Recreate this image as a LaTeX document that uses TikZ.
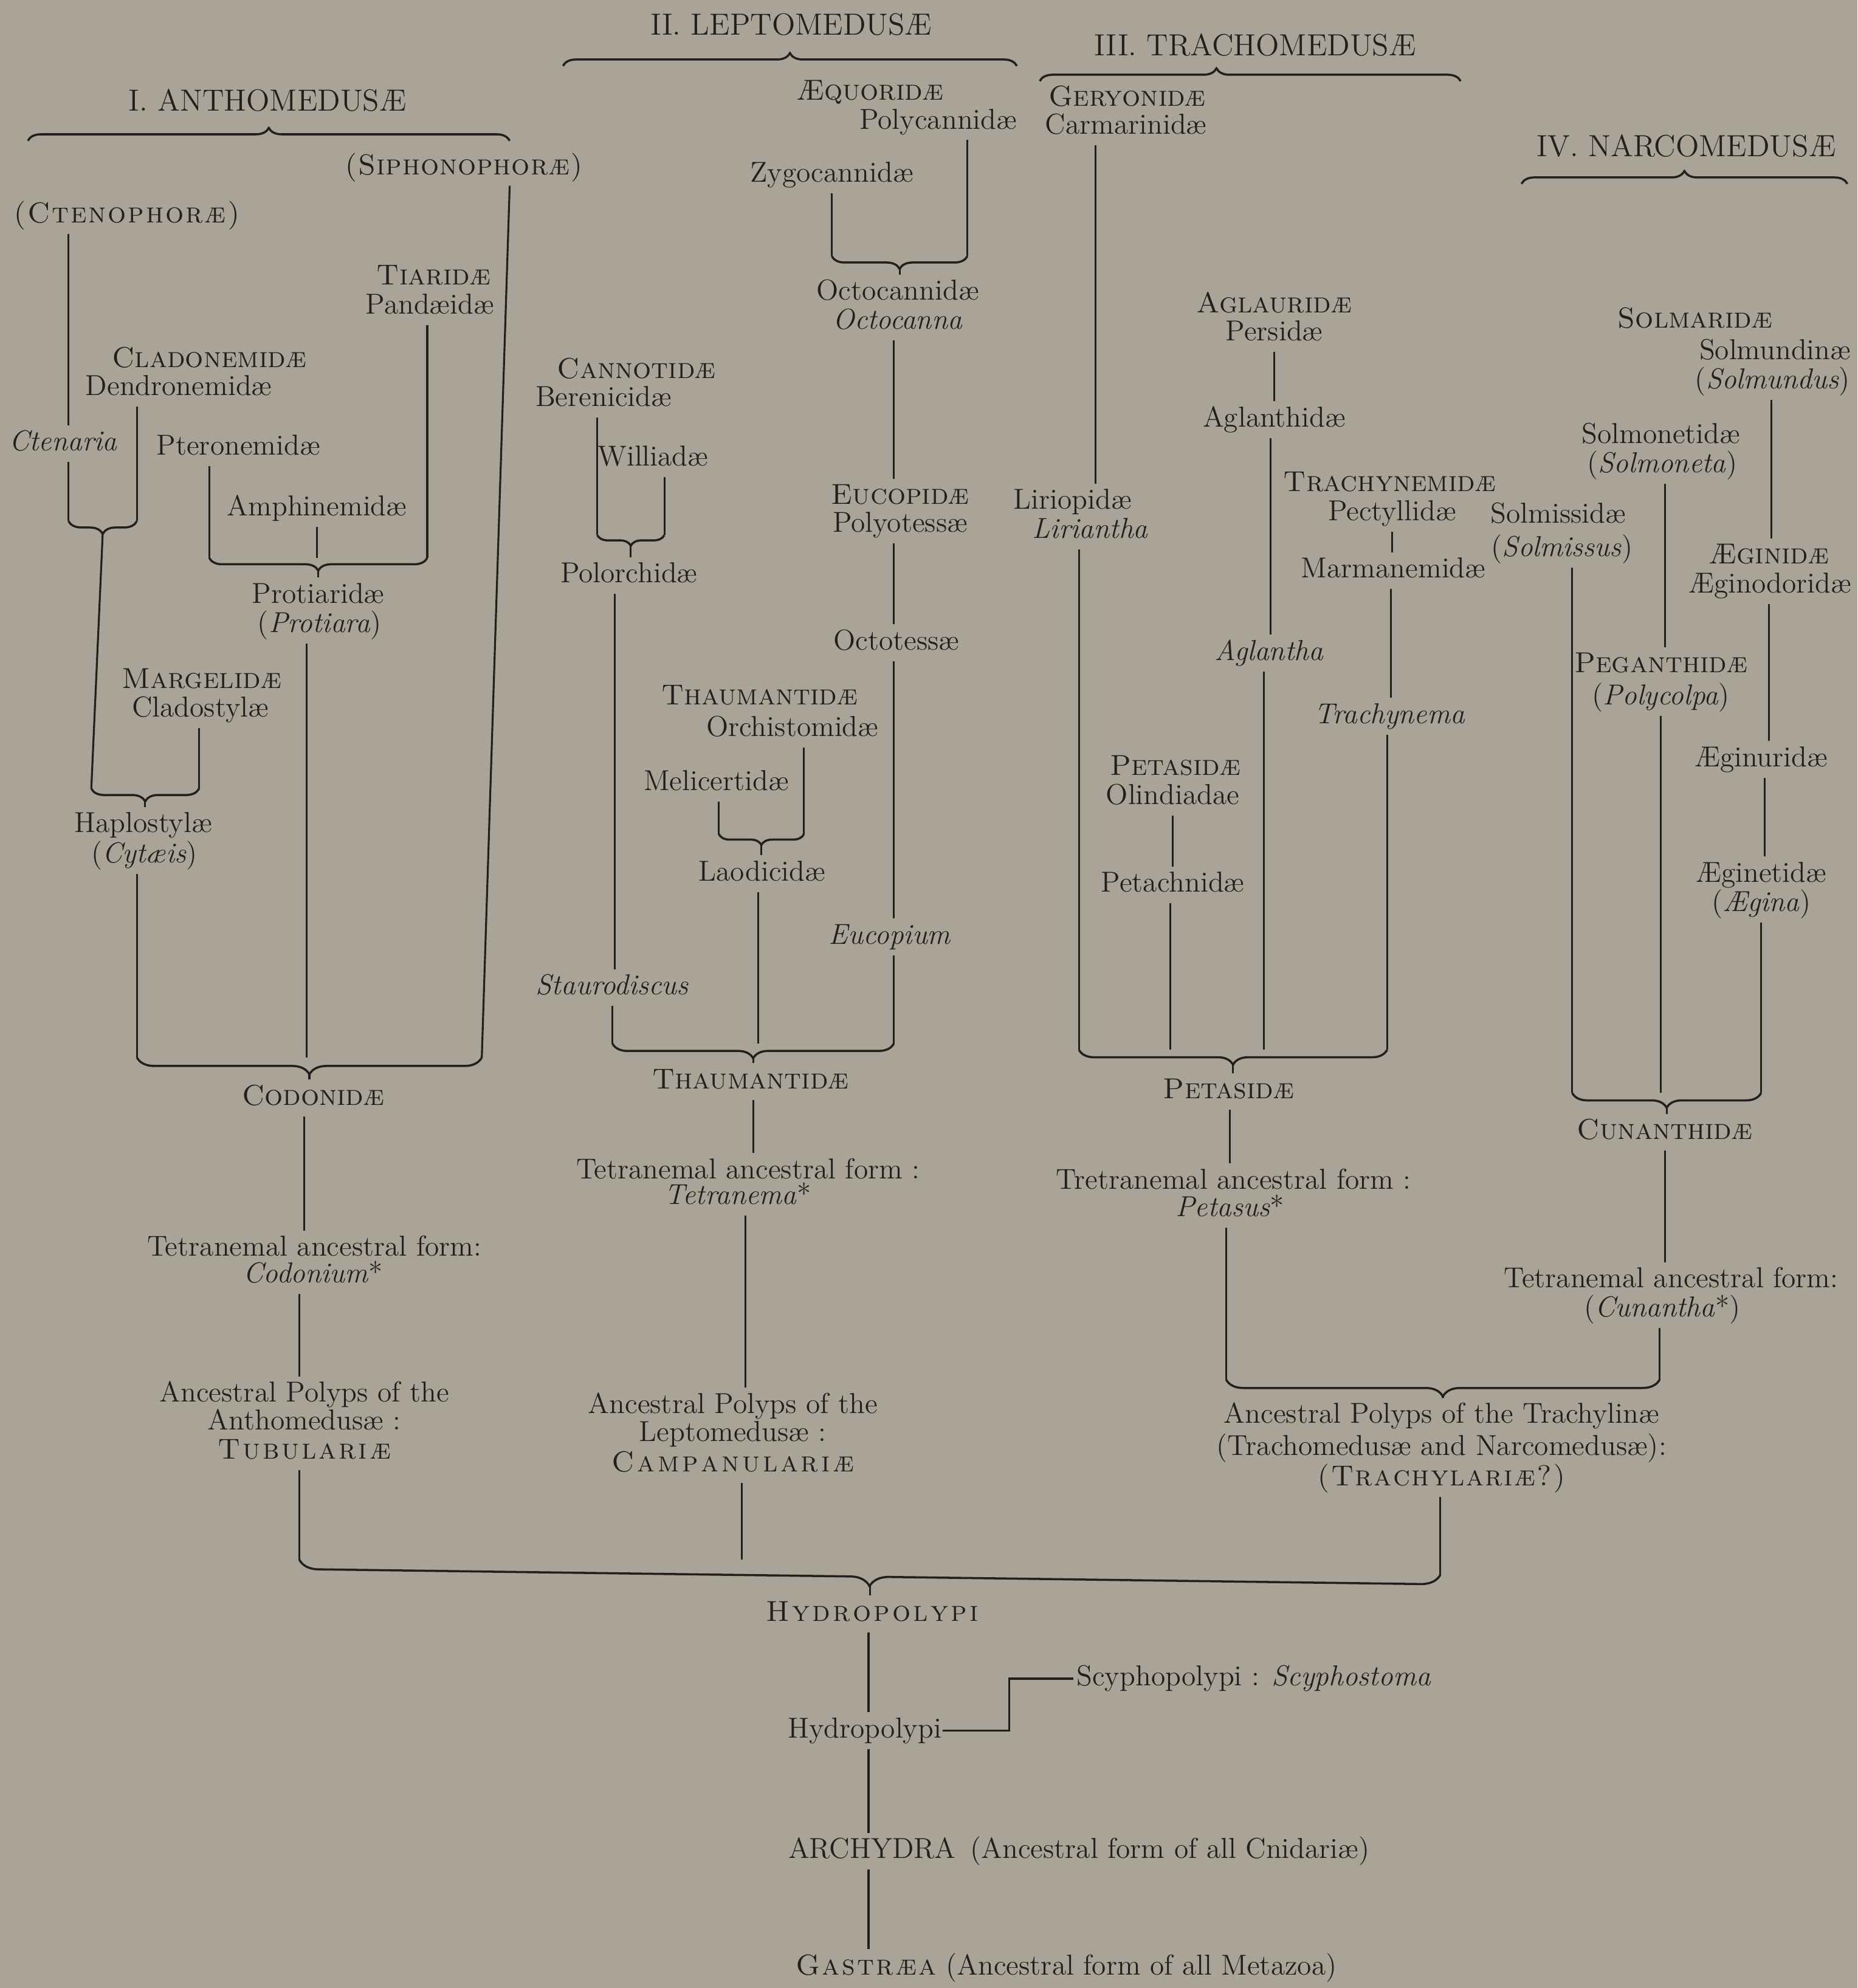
\documentclass[tikz,border=0pt]{standalone}
\usepackage{fontspec}
\usetikzlibrary{calc,decorations.pathreplacing}
\definecolor{paper}{RGB}{170,164,152}
\definecolor{ink}{RGB}{34,31,28}
\newcommand\spaced[2][.08em]{\def\spgap{#1}\spacedloop#2\relax}
\def\spacedloop#1{\ifx\relax#1\unskip\else#1\hskip\spgap\relax\expandafter\spacedloop\fi}

\begin{document}
\begin{tikzpicture}[x=0.02086cm,y=-0.02086cm,color=ink,line width=0.9pt,
  every node/.style={font=\fontsize{13.5}{15}\selectfont,inner sep=2pt,text height=9.5pt,text depth=2.8pt},
  hdr/.style={font=\fontsize{14.3}{16}\selectfont},
  curly/.style={line width=1pt,decorate,decoration={brace,amplitude=#1}},
  curly/.default=6pt]
  \useasboundingbox (0,0) rectangle (1465,1568);
  \fill[paper] (0,0) rectangle (1465,1568);

  % I. Anthomedusae
  \node[hdr] (hA) at (211,82) {I. ANTHOMEDUSÆ};
  \node (siph) at (366,132) {\scshape\spaced[.02em]{(Siphonophoræ)}};
  \node (cten) at (100,170) {\scshape\spaced[.06em]{(Ctenophoræ)}};
  \node (ctenaria) at (50,350) {\textit{Ctenaria}};
  \node (clad) at (165,284) {\textsc{Cladonemidæ}};
  \node (dendro) at (141,306) {Dendronemidæ};
  \node (pteron) at (188,353) {Pteronemidæ};
  \node (amphi) at (250,401) {Amphinemidæ};
  \node (tiar) at (342,219) {\textsc{Tiaridæ}};
  \node (pand) at (339,242) {Pandæidæ};
  \node (protiar) at (251,470) {Protiaridæ};
  \node (protiara) at (252,493) {(\textit{Protiara})};
  \node (marg) at (159,537) {\textsc{Margelidæ}};
  \node (clado) at (158,560) {Cladostylæ};
  \node (haplo) at (113,651) {Haplostylæ};
  \node (cytaeis) at (114,675) {(\textit{Cytæis})};
  \node (codonid) at (247,866) {\textsc{Codonidæ}};
  \node (tetA1) at (248,985) {Tetranemal ancestral form:};
  \node (tetA2) at (247,1006) {\textit{Codonium}*};
  \node (ancA1) at (240,1100) {Ancestral Polyps of the};
  \node (ancA2) at (240,1122) {Anthomedusæ :};
  \node (ancA3) at (240,1145) {\scshape\spaced{Tubulariæ}};

  % II. Leptomedusae
  \node[hdr] (hB) at (624,22) {II. LEPTOMEDUSÆ};
  \node (aequ) at (686,73) {\textsc{Æquoridæ}};
  \node (polyc) at (740,96) {Polycannidæ};
  \node (zygo) at (656,138) {Zygocannidæ};
  \node (octoc) at (708,231) {Octocannidæ};
  \node (octocanna) at (708,254) {\textit{Octocanna}};
  \node (eucop) at (710,392) {\textsc{Eucopidæ}};
  \node (polyo) at (710,414) {Polyotessæ};
  \node (octot) at (707,507) {Octotessæ};
  \node (eucopium) at (702,739) {\textit{Eucopium}};
  \node (cannot) at (502,293) {\textsc{Cannotidæ}};
  \node (beren) at (476,315) {Berenicidæ};
  \node (willi) at (515,362) {Williadæ};
  \node (polor) at (496,454) {Polorchidæ};
  \node (stauro) at (483,779) {\textit{Staurodiscus}};
  \node (thaum) at (599,550) {\textsc{Thaumantidæ}};
  \node (orch) at (625,575) {Orchistomidæ};
  \node (melic) at (565,618) {Melicertidæ};
  \node (laod) at (601,689) {Laodicidæ};
  \node (thaum2) at (592,853) {\textsc{Thaumantidæ}};
  \node (tetB1) at (590,924) {Tetranemal ancestral form :};
  \node (tetB2) at (582,944) {\textit{Tetranema}*};
  \node (ancB1) at (578,1109) {Ancestral Polyps of the};
  \node (ancB2) at (578,1131) {Leptomedusæ :};
  \node (ancB3) at (578,1155) {\scshape\spaced[.1em]{Campanulariæ}};

  % III. Trachomedusae
  \node[hdr] (hC) at (990,38) {III. TRACHOMEDUSÆ};
  \node (geryon) at (889,78) {\textsc{Geryonidæ}};
  \node (carmar) at (888,100) {Carmarinidæ};
  \node (lirio) at (846,396) {Liriopidæ};
  \node (liriantha) at (860,419) {\textit{Liriantha}};
  \node (aglaur) at (1005,241) {\textsc{Aglauridæ}};
  \node (persid) at (1005,263) {Persidæ};
  \node (aglanthid) at (1005,331) {Aglanthidæ};
  \node (aglantha) at (1001,515) {\textit{Aglantha}};
  \node (trachyn) at (1096,382) {\textsc{Trachynemidæ}};
  \node (pectyl) at (1098,405) {Pectyllidæ};
  \node (marman) at (1099,450) {Marmanemidæ};
  \node (trachynema) at (1096,565) {\textit{Trachynema}};
  \node (petas) at (927,606) {\textsc{Petasidæ}};
  \node (olind) at (925,629) {Olindiadae};
  \node (petach) at (925,698) {Petachnidæ};
  \node (petas2) at (969,861) {\textsc{Petasidæ}};
  \node (tetC1) at (973,932) {Tretranemal ancestral form :};
  \node (tetC2) at (970,954) {\textit{Petasus}*};
  \node (ancC1) at (1137,1117) {Ancestral Polyps of the Trachylinæ};
  \node (ancC2) at (1137,1142) {(Trachomedusæ and Narcomedusæ):};
  \node (ancC3) at (1137,1166) {\scshape\spaced[.05em]{(Trachylariæ?)}};

  % IV. Narcomedusae
  \node[hdr] (hD) at (1330,118) {IV. NARCOMEDUSÆ};
  \node (solmar) at (1337,253) {\textsc{Solmaridæ}};
  \node (solmund) at (1400,278) {Solmundinæ};
  \node (solmundus) at (1398,301) {(\textit{Solmundus})};
  \node (aegin) at (1395,439) {\textsc{Æginidæ}};
  \node (aeginod) at (1396,462) {Æginodoridæ};
  \node (aeginur) at (1389,599) {Æginuridæ};
  \node (aeginet) at (1389,690) {Æginetidæ};
  \node (aegina) at (1389,713) {(\textit{Ægina})};
  \node (solmon) at (1310,344) {Solmonetidæ};
  \node (solmoneta) at (1311,367) {(\textit{Solmoneta})};
  \node (pegan) at (1310,525) {\textsc{Peganthidæ}};
  \node (polycolpa) at (1310,550) {(\textit{Polycolpa})};
  \node (solmis) at (1229,407) {Solmissidæ};
  \node (solmissus) at (1232,433) {(\textit{Solmissus})};
  \node (cunan) at (1313,893) {\textsc{Cunanthidæ}};
  \node (tetD1) at (1318,1010) {Tetranemal ancestral form:};
  \node (tetD2) at (1311,1033) {(\textit{Cunantha}*)};

  % root
  \node (hydroP) at (688,1273) {\scshape\spaced[.09em]{Hydropolypi}};
  \node (hydro) at (682,1365) {Hydropolypi};
  \node[anchor=west] (scypho) at (845,1324) {Scyphopolypi : \textit{Scyphostoma}};
  \node (archy) at (851,1460) {ARCHYDRA\enspace(Ancestral form of all Cnidariæ)};
  \node (gastr) at (841,1552) {{\scshape\spaced[.07em]{Gastræa}} (Ancestral form of all Metazoa)};

  % group braces
  \draw[curly] (22,111) -- (402,111);
  \draw[curly] (444,52) -- (802,52);
  \draw[curly,decoration={aspect=0.42}] (820,64) -- (1152,64);
  \draw[curly] (1200,145) -- (1457,145);

  % joining braces
  \coordinate (A1l) at (54,411);   \coordinate (A1r) at (108,411);  \coordinate (A1t) at (81,421);
  \coordinate (A2l) at (165,440);  \coordinate (A2r) at (337,440);  \coordinate (A2t) at (251,450);
  \coordinate (A3l) at (72,622);   \coordinate (A3r) at (157,622);  \coordinate (A3t) at (114.5,632);
  \coordinate (A4l) at (108,834);  \coordinate (A4r) at (380,834);  \coordinate (A4t) at (244,847.5);
  \coordinate (B1l) at (656,202);  \coordinate (B1r) at (763,202);  \coordinate (B1t) at (709.5,212);
  \coordinate (B2l) at (471,422);  \coordinate (B2r) at (524,422);  \coordinate (B2t) at (497.5,430.4);
  \coordinate (B3l) at (567,658);  \coordinate (B3r) at (634,658);  \coordinate (B3t) at (600.5,666.4);
  \coordinate (B4l) at (483,823);  \coordinate (B4r) at (705,823);  \coordinate (B4t) at (594,834.8);
  \coordinate (C1l) at (851,828);  \coordinate (C1r) at (1094,828); \coordinate (C1t) at (972.5,839.8);
  \coordinate (C2l) at (967,1088); \coordinate (C2r) at (1309,1088); \coordinate (C2t) at (1138,1101.5);
  \coordinate (D1l) at (1240,862); \coordinate (D1r) at (1389,862); \coordinate (D1t) at (1314.5,873.8);
  \coordinate (Zl) at (236,1230);  \coordinate (Zr) at (1136,1242); \coordinate (Zt) at (686,1251);

  \foreach \b in {A1,A2,A3,B1}
    \draw[curly] (\b r) -- (\b l);
  \foreach \b in {B2,B3}
    \draw[curly=5pt] (\b r) -- (\b l);
  \foreach \b in {B4,C1,D1}
    \draw[curly=7pt] (\b r) -- (\b l);
  \foreach \b in {A4,C2}
    \draw[curly=8pt] (\b r) -- (\b l);
  \draw[curly=9pt] (Zr) -- (Zl);

  % lines down to brace ends
  \foreach \a/\c in {ctenaria/A1l, dendro/A1r, pteron/A2l, pand/A2r, clado/A3r, cytaeis/A4l,
      polyc/B1r, zygo/B1l, beren/B2l, willi/B2r, orch/B3r, melic/B3l, stauro/B4l, eucopium/B4r,
      liriantha/C1l, trachynema/C1r, tetC2/C2l, tetD2/C2r, aegina/D1r, solmissus/D1l, ancA3/Zl, ancC3/Zr}
    \draw (\c |- \a.south) -- (\c);
  \draw ($(siph.south)+(36,0)$) -- (A4r);
  % lines into the middle of a brace
  \foreach \a/\c/\dx in {amphi/A2l/0, protiara/A4l/-10, laod/B4l/-3, aglantha/C1l/-4, petach/C1l/-2,
      polycolpa/D1l/0, ancB3/Zl/7}
    \draw ($(\a.south)+(\dx,0)$) -- ($(\c -| \a.south)+(\dx,0)$);
  % lines from brace tips
  \foreach \t/\b in {A2t/protiar, A3t/haplo, A4t/codonid, B1t/octoc, B2t/polor, B3t/laod, B4t/thaum2,
      C1t/petas2, C2t/ancC1, D1t/cunan, Zt/hydroP}
    \draw (\t) -- (\t |- \b.north);
  \draw (A1t) -- (A3l);
  % node to node
  \foreach \a/\b/\dx in {cten/ctenaria/-46, codonid/tetA1/-7, tetA2/ancA1/-11,
      octocanna/eucop/-3, polyo/octot/-5, octot/eucopium/-2, polor/stauro/-11, thaum2/tetB1/2, tetB2/ancB1/6,
      carmar/lirio/-24, persid/aglanthid/0, aglanthid/aglantha/-3, pectyl/marman/0, marman/trachynema/-2,
      olind/petach/0, petas2/tetC1/1, solmundus/aegin/-1, aeginod/aeginur/-1, aeginur/aeginet/3,
      solmoneta/pegan/2, cunan/tetD1/0, hydroP/hydro/-3, hydro/archy/3, archy/gastr/-166}
    \draw ($(\a.south)+(\dx,0)$) -- ($(\b.north -| \a.south)+(\dx,0)$);
  \draw ([xshift=-2pt]hydro.east) -| ($(scypho.west)+(-49,0)$) -- ([xshift=1pt]scypho.west);
\end{tikzpicture}
\end{document}
